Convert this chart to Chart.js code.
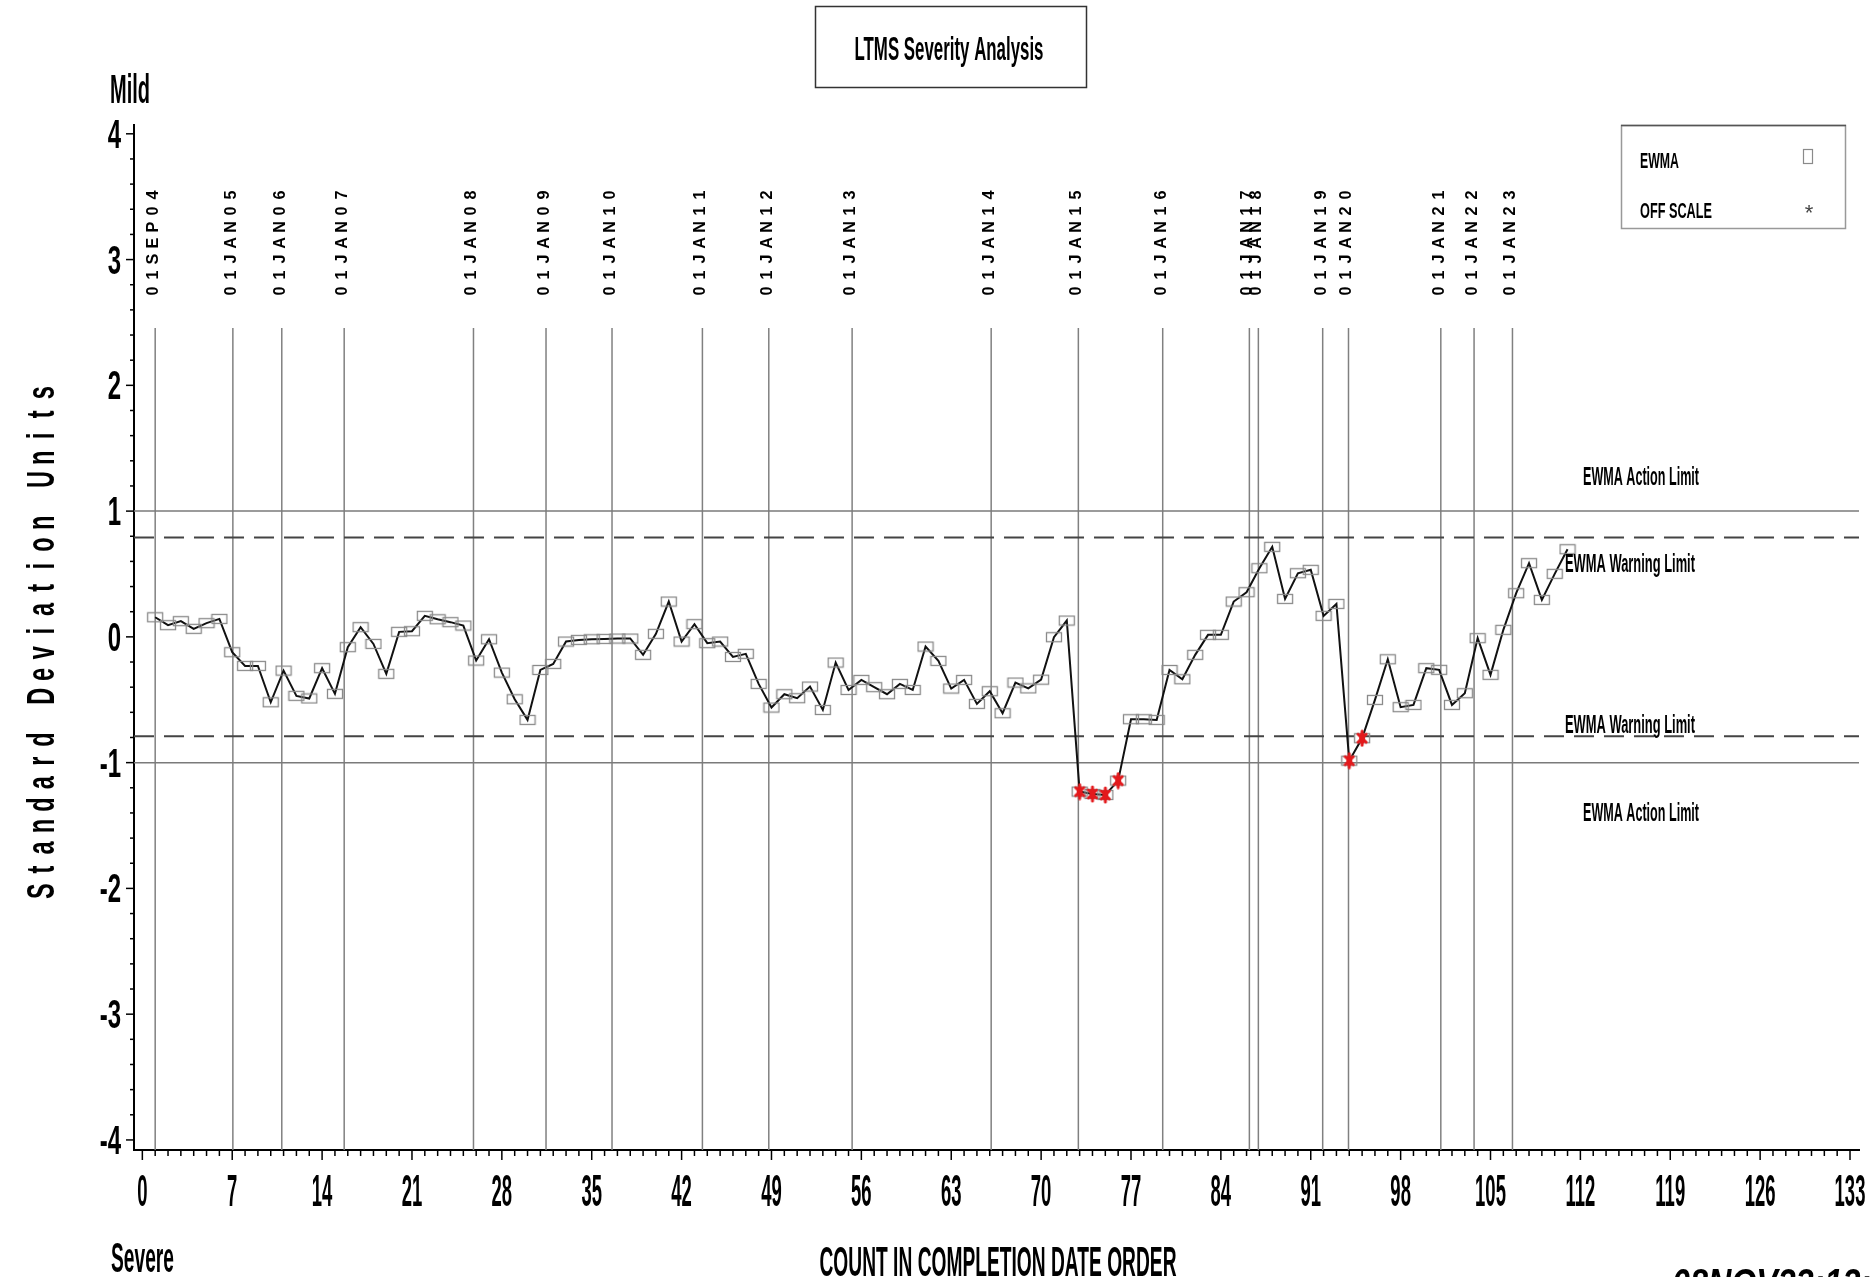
<!DOCTYPE html>
<html>
<head>
<meta charset="utf-8">
<title>LTMS Severity Analysis</title>
<script src="https://cdn.jsdelivr.net/npm/chart.js@4.4.1/dist/chart.umd.min.js"></script>
<style>
  html, body { margin: 0; padding: 0; background: #fff; }
  canvas { display: block; }
</style>
</head>
<body>
<canvas id="chart" width="1873" height="1277"></canvas>
<script>
// ------ Data ------
// EWMA value for each test, in completion date order (test 1 .. 111)
const ewma = [
  0.156, 0.093, 0.125, 0.064, 0.109, 0.143, -0.122, -0.231, -0.231, -0.520,
  -0.268, -0.469, -0.490, -0.249, -0.453, -0.082, 0.077, -0.056, -0.294, 0.040,
  0.045, 0.167, 0.140, 0.117, 0.090, -0.188, -0.019, -0.284, -0.496, -0.660,
  -0.263, -0.215, -0.037, -0.024, -0.019, -0.016, -0.013, -0.013, -0.143, 0.024,
  0.281, -0.037, 0.101, -0.050, -0.037, -0.160, -0.135, -0.374, -0.562, -0.456,
  -0.488, -0.395, -0.581, -0.204, -0.422, -0.342, -0.400, -0.456, -0.374, -0.422,
  -0.077, -0.191, -0.411, -0.342, -0.533, -0.432, -0.607, -0.363, -0.410, -0.340,
  -0.003, 0.130, -1.230, -1.249, -1.257, -1.143, -0.655, -0.655, -0.660, -0.263,
  -0.337, -0.143, 0.016, 0.016, 0.281, 0.355, 0.546, 0.716, 0.302, 0.506,
  0.533, 0.167, 0.262, -0.984, -0.806, -0.501, -0.178, -0.559, -0.541, -0.249,
  -0.262, -0.541, -0.448, -0.010, -0.302, 0.056, 0.347, 0.586, 0.294, 0.501,
  0.697
];
// tests flagged in red (beyond the limits)
const offScaleTests = [73, 74, 75, 76, 94, 95];

// date reference lines (position on the count axis) and their labels
const dateLines = [1.0, 7.05, 10.86, 15.72, 25.79, 31.44, 36.58, 43.62, 48.79, 55.28,
                   66.11, 72.9, 79.47, 86.22, 86.92, 91.93, 93.94, 101.13, 103.72, 106.71];
const dateLabels = ['01SEP04', '01JAN05', '01JAN06', '01JAN07', '01JAN08', '01JAN09', '01JAN10',
                    '01JAN11', '01JAN12', '01JAN13', '01JAN14', '01JAN15', '01JAN16', '01JAN17',
                    '01JAN18', '01JAN19', '01JAN20', '01JAN21', '01JAN22', '01JAN23'];

const xTicks = [0, 7, 14, 21, 28, 35, 42, 49, 56, 63, 70, 77, 84, 91, 98, 105, 112, 119, 126, 133];
const yTicks = [-4, -3, -2, -1, 0, 1, 2, 3, 4];
const actionLimit = 1.0;
const warningLimit = 0.79;

// ------ Helpers ------
const FONT = "'Liberation Sans', Arial, sans-serif";

// bold text squeezed horizontally (SAS output uses a very narrow face)
function squeezed(ctx, text, x, yBase, size, sx, align, style) {
  ctx.save();
  ctx.font = (style || 'bold') + ' ' + size + 'px ' + FONT;
  const w = ctx.measureText(text).width * sx;
  const left = align === 'center' ? x - w / 2 : align === 'right' ? x - w : x;
  ctx.translate(left, yBase);
  ctx.scale(sx, 1);
  ctx.fillStyle = '#000';
  ctx.textAlign = 'left';
  ctx.textBaseline = 'alphabetic';
  ctx.fillText(text, 0, 0);
  ctx.restore();
}
function fitted(ctx, text, x, yBase, size, width, align, style) {
  ctx.save();
  ctx.font = (style || 'bold') + ' ' + size + 'px ' + FONT;
  const sx = width / ctx.measureText(text).width;
  ctx.restore();
  squeezed(ctx, text, x, yBase, size, sx, align, style);
}
// rotated text, read bottom to top, one glyph every `pitch` px
function spacedVertical(ctx, text, baseX, bottom, pitch, size, sx) {
  ctx.save();
  ctx.translate(baseX, bottom);
  ctx.rotate(-Math.PI / 2);
  ctx.font = 'bold ' + size + 'px ' + FONT;
  ctx.fillStyle = '#000';
  ctx.textAlign = 'center';
  ctx.textBaseline = 'alphabetic';
  [...text].forEach((ch, i) => {
    ctx.save();
    ctx.translate(pitch * (i + 0.5), 0);
    ctx.scale(sx, 1);
    ctx.fillText(ch, 0, 0);
    ctx.restore();
  });
  ctx.restore();
}

function boxMark() {
  const c = document.createElement('canvas');
  c.width = 18; c.height = 12;
  const g = c.getContext('2d');
  g.strokeStyle = '#8a8a8a'; g.lineWidth = 1.3;
  g.strokeRect(1.5, 1.5, 15, 9);
  return c;
}
function redMark() {
  const c = document.createElement('canvas');
  c.width = 12; c.height = 18;
  const g = c.getContext('2d');
  g.strokeStyle = '#e3191c'; g.fillStyle = '#e3191c'; g.lineWidth = 3; g.lineCap = 'round';
  g.beginPath();
  g.ellipse(6, 9, 3, 6, 0, 0, Math.PI * 2);
  g.fill();
  g.beginPath();
  g.moveTo(6, 2); g.lineTo(6, 16);
  g.moveTo(2, 5); g.lineTo(10, 13);
  g.moveTo(10, 5); g.lineTo(2, 13);
  g.stroke();
  return c;
}
function line(ctx, x1, y1, x2, y2) {
  ctx.beginPath(); ctx.moveTo(x1, y1); ctx.lineTo(x2, y2); ctx.stroke();
}

// ------ Reference lines (behind the data) ------
const refLines = {
  id: 'refLines',
  beforeDatasetsDraw(chart) {
    const {ctx, chartArea: a, scales: {x, y}} = chart;
    ctx.save();
    ctx.strokeStyle = '#808080'; ctx.lineWidth = 1.5;
    dateLines.forEach(v => { const px = x.getPixelForValue(v); line(ctx, px, 328, px, a.bottom); });

    ctx.strokeStyle = '#7a7a7a'; ctx.lineWidth = 1.5;
    [actionLimit, -actionLimit].forEach(v => { const py = y.getPixelForValue(v); line(ctx, a.left, py, a.right, py); });

    ctx.strokeStyle = '#444'; ctx.lineWidth = 1.8;
    ctx.setLineDash([20, 10]);
    [warningLimit, -warningLimit].forEach(v => { const py = y.getPixelForValue(v); line(ctx, a.left, py, a.right, py); });
    ctx.restore();
  }
};

// ------ Ticks, labels, title, legend ------
const decorations = {
  id: 'decorations',
  afterDraw(chart) {
    const {ctx, chartArea: a, scales: {x, y}} = chart;
    ctx.save();
    ctx.strokeStyle = '#000'; ctx.lineWidth = 1.5;
    // x ticks: minor every unit, major every 7
    for (let v = 0; v <= 133; v++) {
      const px = x.getPixelForValue(v);
      line(ctx, px, a.bottom, px, a.bottom + (xTicks.includes(v) ? 10 : 6));
    }
    // y ticks: minor every 0.2
    for (let k = -20; k <= 20; k++) {
      const py = y.getPixelForValue(k / 5);
      line(ctx, a.left, py, a.left - (k % 5 === 0 ? 8 : 4), py);
    }
    xTicks.forEach(v => squeezed(ctx, String(v), x.getPixelForValue(v), 1206, 44, 0.42, 'center'));
    yTicks.forEach(v => squeezed(ctx, String(v), 121, y.getPixelForValue(v) + 14, 40, 0.6, 'right'));

    // date labels above the reference lines
    dateLines.forEach((v, i) => spacedVertical(ctx, dateLabels[i], x.getPixelForValue(v) + 3, 299, 16, 17, 0.95));

    // axis texts
    spacedVertical(ctx, 'Standard Deviation Units', 54, 902, 21.67, 38, 0.62);
    fitted(ctx, 'Mild', 110, 103, 40, 40, 'left');
    fitted(ctx, 'Severe', 111, 1272, 42, 63, 'left');
    fitted(ctx, 'COUNT IN COMPLETION DATE ORDER', 998, 1276, 43, 357, 'center');
    fitted(ctx, '08NOV23:12:36', 1672, 1297, 40, 235, 'left', 'italic bold');

    // limit labels
    fitted(ctx, 'EWMA Action Limit', 1583, 485, 25, 116, 'left');
    fitted(ctx, 'EWMA Warning Limit', 1565, 572, 25, 130, 'left');
    fitted(ctx, 'EWMA Warning Limit', 1565, 733, 25, 130, 'left');
    fitted(ctx, 'EWMA Action Limit', 1583, 821, 25, 116, 'left');

    // title box
    ctx.strokeStyle = '#333'; ctx.lineWidth = 1.5;
    ctx.strokeRect(815.5, 6.5, 271, 81);
    fitted(ctx, 'LTMS Severity Analysis', 949, 60, 33, 189, 'center');

    // legend box
    ctx.strokeStyle = '#999'; ctx.lineWidth = 1.5;
    ctx.strokeRect(1621.5, 125.5, 224, 103);
    ctx.strokeStyle = '#555';
    line(ctx, 1621, 125.5, 1846, 125.5);
    fitted(ctx, 'EWMA', 1640, 168, 22, 39, 'left');
    fitted(ctx, 'OFF SCALE', 1640, 218, 22, 72, 'left');
    ctx.strokeStyle = '#8a8a8a'; ctx.lineWidth = 1.2;
    ctx.strokeRect(1803.5, 149.5, 9, 14);
    ctx.fillStyle = '#444';
    ctx.font = '22px ' + FONT; ctx.textAlign = 'center'; ctx.textBaseline = 'alphabetic';
    ctx.fillText('*', 1809, 220);
    ctx.restore();
  }
};

// ------ Chart ------
const points = ewma.map((v, i) => ({x: i + 1, y: v}));
const offPoints = offScaleTests.map(n => ({x: n, y: ewma[n - 1]}));

new Chart(document.getElementById('chart').getContext('2d'), {
  type: 'line',
  data: {
    datasets: [
      {
        label: 'OFF SCALE',
        data: offPoints,
        showLine: false,
        pointStyle: redMark(),
        pointRadius: 8,
        order: -1
      },
      {
        label: 'EWMA',
        data: points,
        borderColor: '#111',
        borderWidth: 2,
        pointStyle: boxMark(),
        pointRadius: 8,
        tension: 0,
        fill: false
      }
    ]
  },
  options: {
    responsive: false,
    animation: false,
    layout: { padding: { left: 134, right: 14, top: 125, bottom: 127 } },
    plugins: { legend: { display: false }, tooltip: { enabled: false } },
    scales: {
      x: {
        type: 'linear', min: -0.65, max: 133.7,
        grid: { display: false, drawTicks: false },
        ticks: { display: false },
        border: { display: true, color: '#000', width: 2 }
      },
      y: {
        type: 'linear', min: -4.08, max: 4.07,
        grid: { display: false, drawTicks: false },
        ticks: { display: false },
        border: { display: true, color: '#000', width: 2 }
      }
    }
  },
  plugins: [refLines, decorations]
});
</script>
</body>
</html>
